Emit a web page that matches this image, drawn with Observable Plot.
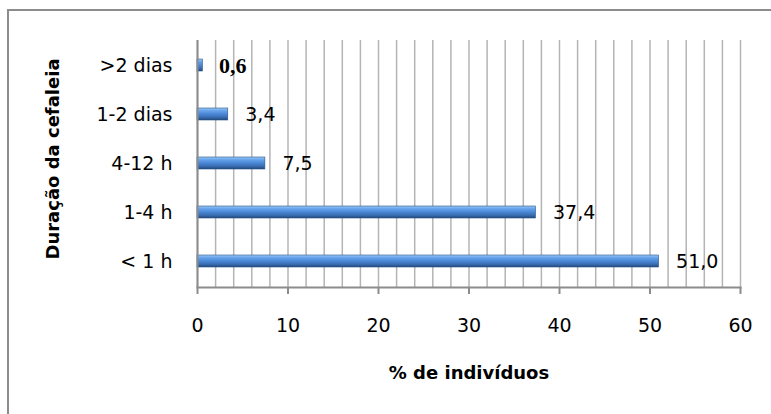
<!DOCTYPE html>
<html>
<head>
<meta charset="utf-8">
<script src="https://cdn.jsdelivr.net/npm/d3@7"></script>
<script src="https://cdn.jsdelivr.net/npm/@observablehq/plot@0.6"></script>
<style>
  body { margin: 0; background: #fff; }
  #wrap { position: relative; width: 771px; height: 414px; overflow: hidden; }
  #border { position: absolute; left: 7px; top: 9px; width: 780px; height: 420px; border: 2px solid #8c8c8c; box-sizing: border-box; pointer-events: none; }
  svg { display: block; }
</style>
</head>
<body>
<div id="wrap"><div id="border"></div></div>
<script>
const categories = [">2 dias", "1-2 dias", "4-12 h", "1-4 h", "< 1 h"];
const values = [0.6, 3.4, 7.5, 37.4, 51.0];
const labels = ["0,6", "3,4", "7,5", "37,4", "51,0"];
const xTicks = [0, 10, 20, 30, 40, 50, 60];
const gridTicks = d3.range(0, 61, 2);

const data = categories.map((c, i) => ({cat: c, value: values[i], label: labels[i], bold: i === 0}));

const chart = Plot.plot({
  width: 771,
  height: 414,
  marginLeft: 197,
  marginRight: 31,
  marginTop: 40,
  marginBottom: 127,
  style: {fontFamily: "'DejaVu Sans', sans-serif", background: "transparent", overflow: "visible"},
  x: {domain: [0, 60]},
  y: {domain: categories, paddingInner: 0.75, paddingOuter: 0.375},
  marks: [
    Plot.gridX(gridTicks, {stroke: "#b4b4b4", strokeOpacity: 1, strokeWidth: 1.5}),
    Plot.barX(data, {x: "value", y: "cat", fill: "url(#barGrad)", stroke: "#2a5488", strokeWidth: 0.6}),
    Plot.ruleX([0], {stroke: "#8c8c8c", strokeWidth: 2}),
    Plot.frame({anchor: "bottom", stroke: "#8c8c8c", strokeWidth: 2}),
    Plot.axisX({ticks: xTicks, tickSize: 7, tickPadding: 24, fontSize: 19, stroke: "#8c8c8c", strokeWidth: 2, fill: "#000", label: null}),
    Plot.axisY({tickSize: 0, tickPadding: 25, fontSize: 19, fill: "#000", label: null}),
    Plot.text(data.filter(d => !d.bold), {x: "value", y: "cat", text: "label", textAnchor: "start", dx: 17, fontSize: 19, fill: "#000"}),
    Plot.text(data.filter(d => d.bold), {x: "value", y: "cat", text: "label", textAnchor: "start", dx: 16, fontSize: 22, fontWeight: "bold", fontFamily: "'Liberation Serif', 'Times New Roman', serif", fill: "#000"}),
    Plot.text(["% de indivíduos"], {frameAnchor: "bottom", dy: 91, fontSize: 18, fontWeight: "bold", fill: "#000"}),
    Plot.text(["Duração da cefaleia"], {frameAnchor: "left", textAnchor: "middle", dx: -144, dy: -5, rotate: -90, fontSize: 18, fontWeight: "bold", fill: "#000"})
  ]
});

const defs = d3.select(chart).insert("defs", ":first-child");
const g = defs.append("linearGradient").attr("id", "barGrad").attr("x1", 0).attr("y1", 0).attr("x2", 0).attr("y2", 1);
[[0, "#9cc9f7"], [0.2, "#6aa6ec"], [0.5, "#4a87d6"], [0.75, "#3b6fb4"], [1, "#22497c"]].forEach(([o, c]) => {
  g.append("stop").attr("offset", o).attr("stop-color", c);
});

document.getElementById("wrap").insertBefore(chart, document.getElementById("border"));
</script>
</body>
</html>
